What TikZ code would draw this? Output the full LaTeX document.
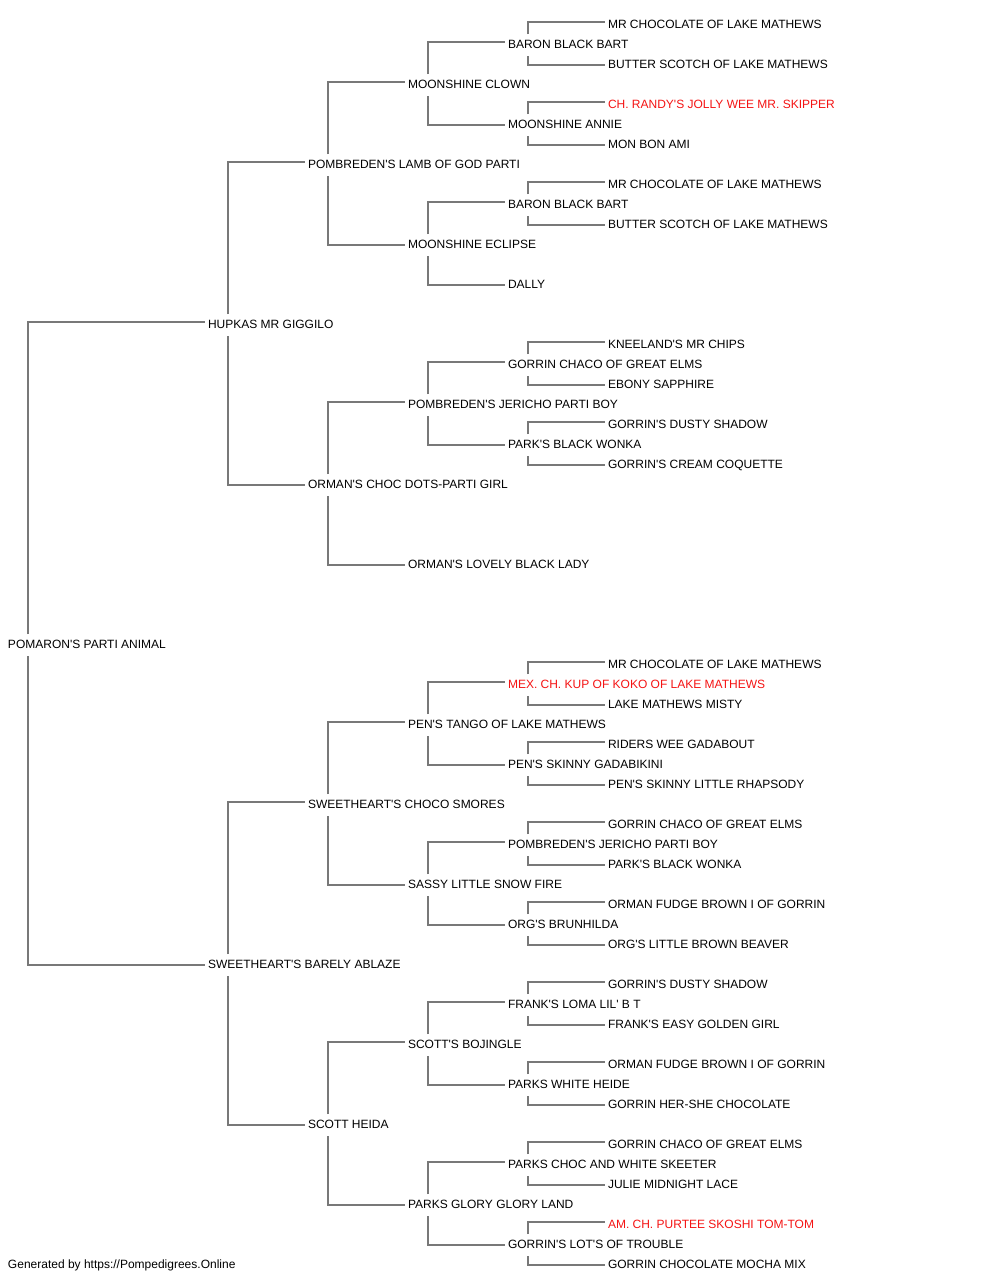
\documentclass[tikz,border=0pt]{standalone}
\usepackage{fontspec}
\setmainfont{Liberation Sans}[Ligatures=TeXOff]
\definecolor{lineg}{RGB}{120,120,120}
\definecolor{redname}{RGB}{245,20,20}
\begin{document}
\begin{tikzpicture}[x=1pt,y=-1pt,
  pn/.style={anchor=base west, yshift=-4.3pt, inner sep=0pt, outer sep=0pt,
    font=\fontsize{12pt}{14pt}\selectfont, text height=14.3pt, text depth=7.7pt},
  rn/.style={pn, text=redname},
  conn/.style={draw=lineg, line width=1.5pt}]
\fill[white] (0,0) rectangle (1000,1280);
\useasboundingbox (0,0) rectangle (1000,1280);
% generation 0
\node[pn] (n644) at (8,644) {POMARON'S PARTI ANIMAL};
% generation 1
\node[pn] (n324) at (208,324) {HUPKAS MR GIGGILO};
\node[pn] (n964) at (208,964) {SWEETHEART'S BARELY ABLAZE};
% generation 2
\node[pn] (n164) at (308,164) {POMBREDEN'S LAMB OF GOD PARTI};
\node[pn] (n484) at (308,484) {ORMAN'S CHOC DOTS-PARTI GIRL};
\node[pn] (n804) at (308,804) {SWEETHEART'S CHOCO SMORES};
\node[pn] (n1124) at (308,1124) {SCOTT HEIDA};
% generation 3
\node[pn] (n84) at (408,84) {MOONSHINE CLOWN};
\node[pn] (n244) at (408,244) {MOONSHINE ECLIPSE};
\node[pn] (n404) at (408,404) {POMBREDEN'S JERICHO PARTI BOY};
\node[pn] (n564) at (408,564) {ORMAN'S LOVELY BLACK LADY};
\node[pn] (n724) at (408,724) {PEN'S TANGO OF LAKE MATHEWS};
\node[pn] (n884) at (408,884) {SASSY LITTLE SNOW FIRE};
\node[pn] (n1044) at (408,1044) {SCOTT'S BOJINGLE};
\node[pn] (n1204) at (408,1204) {PARKS GLORY GLORY LAND};
% generation 4
\node[pn] (n44) at (508,44) {BARON BLACK BART};
\node[pn] (n124) at (508,124) {MOONSHINE ANNIE};
\node[pn] (n204) at (508,204) {BARON BLACK BART};
\node[pn] (n284) at (508,284) {DALLY};
\node[pn] (n364) at (508,364) {GORRIN CHACO OF GREAT ELMS};
\node[pn] (n444) at (508,444) {PARK'S BLACK WONKA};
\node[rn] (n684) at (508,684) {MEX. CH. KUP OF KOKO OF LAKE MATHEWS};
\node[pn] (n764) at (508,764) {PEN'S SKINNY GADABIKINI};
\node[pn] (n844) at (508,844) {POMBREDEN'S JERICHO PARTI BOY};
\node[pn] (n924) at (508,924) {ORG'S BRUNHILDA};
\node[pn] (n1004) at (508,1004) {FRANK'S LOMA LIL' B T};
\node[pn] (n1084) at (508,1084) {PARKS WHITE HEIDE};
\node[pn] (n1164) at (508,1164) {PARKS CHOC AND WHITE SKEETER};
\node[pn] (n1244) at (508,1244) {GORRIN'S LOT'S OF TROUBLE};
% generation 5
\node[pn] (n24) at (608,24) {MR CHOCOLATE OF LAKE MATHEWS};
\node[pn] (n64) at (608,64) {BUTTER SCOTCH OF LAKE MATHEWS};
\node[rn] (n104) at (608,104) {CH. RANDY'S JOLLY WEE MR. SKIPPER};
\node[pn] (n144) at (608,144) {MON BON AMI};
\node[pn] (n184) at (608,184) {MR CHOCOLATE OF LAKE MATHEWS};
\node[pn] (n224) at (608,224) {BUTTER SCOTCH OF LAKE MATHEWS};
\node[pn] (n344) at (608,344) {KNEELAND'S MR CHIPS};
\node[pn] (n384) at (608,384) {EBONY SAPPHIRE};
\node[pn] (n424) at (608,424) {GORRIN'S DUSTY SHADOW};
\node[pn] (n464) at (608,464) {GORRIN'S CREAM COQUETTE};
\node[pn] (n664) at (608,664) {MR CHOCOLATE OF LAKE MATHEWS};
\node[pn] (n704) at (608,704) {LAKE MATHEWS MISTY};
\node[pn] (n744) at (608,744) {RIDERS WEE GADABOUT};
\node[pn] (n784) at (608,784) {PEN'S SKINNY LITTLE RHAPSODY};
\node[pn] (n824) at (608,824) {GORRIN CHACO OF GREAT ELMS};
\node[pn] (n864) at (608,864) {PARK'S BLACK WONKA};
\node[pn] (n904) at (608,904) {ORMAN FUDGE BROWN I OF GORRIN};
\node[pn] (n944) at (608,944) {ORG'S LITTLE BROWN BEAVER};
\node[pn] (n984) at (608,984) {GORRIN'S DUSTY SHADOW};
\node[pn] (n1024) at (608,1024) {FRANK'S EASY GOLDEN GIRL};
\node[pn] (n1064) at (608,1064) {ORMAN FUDGE BROWN I OF GORRIN};
\node[pn] (n1104) at (608,1104) {GORRIN HER-SHE CHOCOLATE};
\node[pn] (n1144) at (608,1144) {GORRIN CHACO OF GREAT ELMS};
\node[pn] (n1184) at (608,1184) {JULIE MIDNIGHT LACE};
\node[rn] (n1224) at (608,1224) {AM. CH. PURTEE SKOSHI TOM-TOM};
\node[pn] (n1264) at (608,1264) {GORRIN CHOCOLATE MOCHA MIX};
% footer
\node[pn] (foot) at (8,1264) {Generated by https://Pompedigrees.Online};
% connectors
\foreach \p/\t/\b in {644/324/964, 324/164/484, 964/804/1124,
  164/84/244, 484/404/564, 804/724/884, 1124/1044/1204,
  84/44/124, 244/204/284, 404/364/444, 724/684/764, 884/844/924,
  1044/1004/1084, 1204/1164/1244,
  44/24/64, 124/104/144, 204/184/224, 364/344/384, 444/424/464,
  684/664/704, 764/744/784, 844/824/864, 924/904/944,
  1004/984/1024, 1084/1064/1104, 1164/1144/1184, 1244/1224/1264}{
  \draw[conn] ([xshift=20pt]n\p.north west) |- ([shift={(-3pt,6.3pt)}]n\t.base west);
  \draw[conn] ([xshift=20pt]n\p.south west) |- ([shift={(-3pt,3.3pt)}]n\b.base west);
}
\end{tikzpicture}
\end{document}
